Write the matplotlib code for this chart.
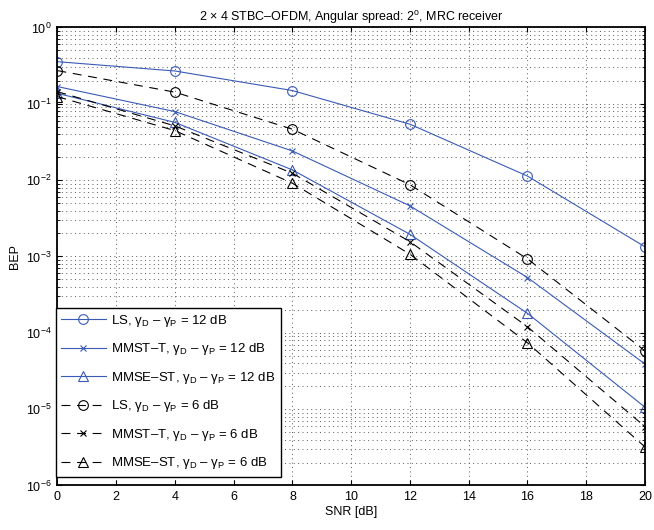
import numpy as np
import matplotlib.pyplot as plt
from matplotlib.ticker import LogLocator, NullFormatter

plt.rcParams['font.family'] = ['Liberation Sans', 'DejaVu Sans']
plt.rcParams['mathtext.fontset'] = 'custom'
plt.rcParams['mathtext.rm'] = 'Liberation Sans'
plt.rcParams['mathtext.it'] = 'Liberation Sans:italic'

snr = [0, 4, 8, 12, 16, 20]

# gamma_D - gamma_P = 12 dB
ls_12 = [0.356, 0.269, 0.149, 0.054, 0.0113, 0.00134]
mmst_12 = [0.168, 0.079, 0.0241, 0.0046, 5.3e-4, 3.9e-5]
mmse_12 = [0.137, 0.057, 0.0136, 0.00195, 1.8e-4, 1.06e-5]

# gamma_D - gamma_P = 6 dB
ls_6 = [0.272, 0.142, 0.0464, 0.0087, 9.3e-4, 5.8e-5]
mmst_6 = [0.144, 0.0513, 0.0123, 0.00156, 1.2e-4, 5.9e-6]
mmse_6 = [0.124, 0.0445, 0.0091, 0.00107, 7.4e-5, 3.2e-6]

blue = '#3a5bb5'
dash = (0, (8, 6))
dots = (0, (1, 3.5))
fig = plt.figure(figsize=(6.54, 5.30), dpi=100)
ax = fig.add_axes([0.0879, 0.0840, 0.8983, 0.8642])

gd = r'γ$_{\rm D}$ – γ$_{\rm P}$'
ax.semilogy(snr, ls_12, color=blue, lw=0.8, marker='o', ms=7, mfc='none', mew=0.8,
            label='LS, ' + gd + ' = 12 dB')
ax.semilogy(snr, mmst_12, color=blue, lw=0.8, marker='x', ms=5, mew=0.8,
            label='MMST–T, ' + gd + ' = 12 dB')
ax.semilogy(snr, mmse_12, color=blue, lw=0.8, marker='^', ms=7, mfc='none', mew=0.8,
            label='MMSE–ST, ' + gd + ' = 12 dB')
ax.semilogy(snr, ls_6, color='k', lw=0.8, ls=dash, marker='o', ms=7, mfc='none', mew=0.8,
            label='LS, ' + gd + ' = 6 dB')
ax.semilogy(snr, mmst_6, color='k', lw=0.8, ls=dash, marker='x', ms=5, mew=0.8,
            label='MMST–T, ' + gd + ' = 6 dB')
ax.semilogy(snr, mmse_6, color='k', lw=0.8, ls=dash, marker='^', ms=7, mfc='none', mew=0.8,
            label='MMSE–ST, ' + gd + ' = 6 dB')

ax.set_xlim(0, 20)
ax.set_ylim(1e-6, 1)
ax.set_xticks(np.arange(0, 21, 2))
ax.yaxis.set_major_locator(LogLocator(base=10, numticks=10))
ax.yaxis.set_minor_locator(LogLocator(base=10, subs=np.arange(2, 10), numticks=10))
ax.yaxis.set_minor_formatter(NullFormatter())
ax.grid(True, which='major', ls=dots, color='0.35', lw=0.7)
ax.grid(True, which='minor', axis='y', ls=dots, color='0.35', lw=0.7)
ax.tick_params(direction='in', which='both', top=True, right=True, labelsize=9, pad=4)
for s in ax.spines.values():
    s.set_linewidth(1.3)

ax.set_xlabel('SNR [dB]', fontsize=9, labelpad=2)
ax.set_ylabel('BEP', fontsize=9, labelpad=4)
ax.set_title('2 × 4 STBC–OFDM, Angular spread: 2$^{\\rm o}$, MRC receiver', fontsize=9, pad=5)

leg = ax.legend(loc='lower left', bbox_to_anchor=(-0.003, 0.019), fontsize=9.5, fancybox=False,
                edgecolor='k', framealpha=1, handlelength=3.4, labelspacing=0.95,
                borderpad=0.4, handletextpad=0.4, borderaxespad=0)
leg.get_frame().set_linewidth(1.0)

fig.savefig('out.png', dpi=100)
